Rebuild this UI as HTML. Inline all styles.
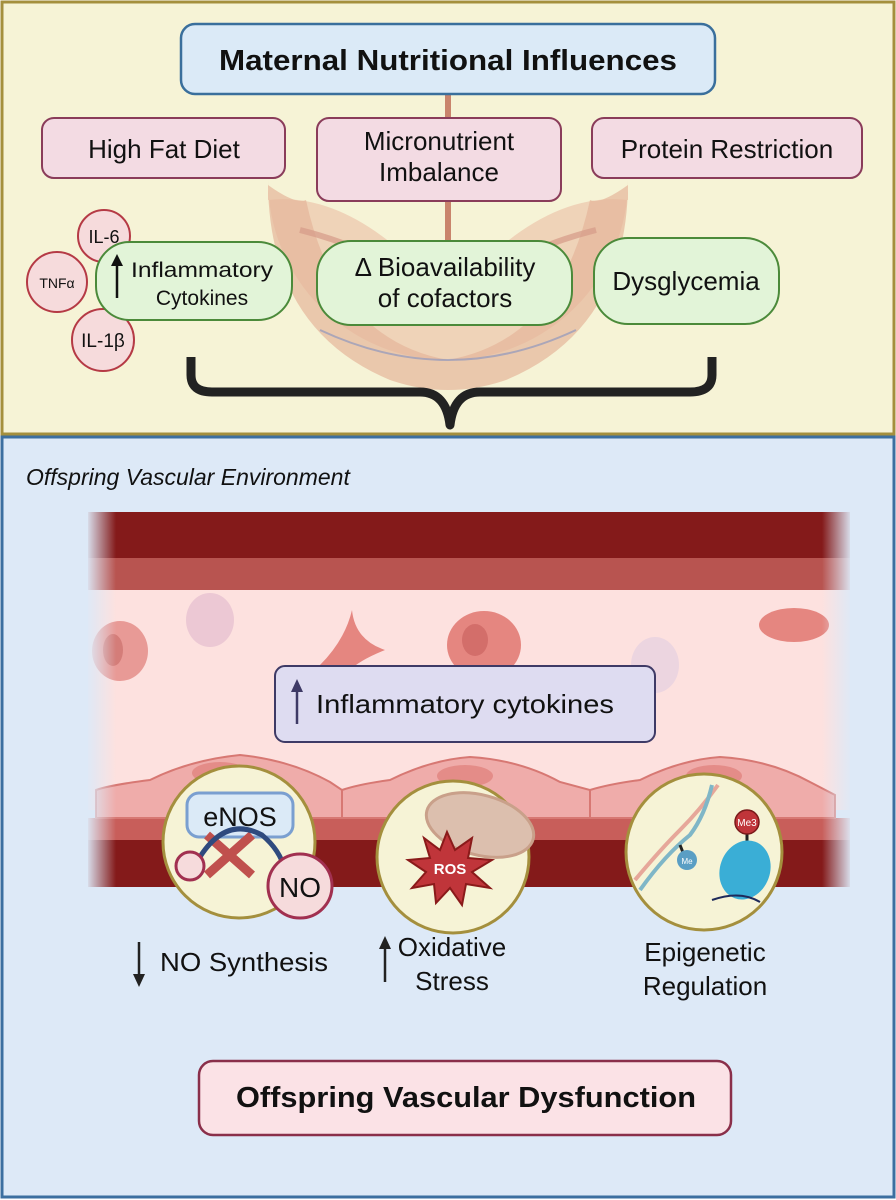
<!DOCTYPE html>
<html><head><meta charset="utf-8"><style>
html,body{margin:0;padding:0;background:#fff}
svg{display:block}
text{font-family:"Liberation Sans",sans-serif;fill:#111}
</style></head><body>
<svg width="896" height="1200" viewBox="0 0 896 1200" xmlns="http://www.w3.org/2000/svg">
<defs>
<linearGradient id="fl" x1="0" x2="1"><stop offset="0" stop-color="#dde9f7" stop-opacity="1"/><stop offset="1" stop-color="#dde9f7" stop-opacity="0"/></linearGradient>
<linearGradient id="fr" x1="1" x2="0"><stop offset="0" stop-color="#dde9f7" stop-opacity="1"/><stop offset="1" stop-color="#dde9f7" stop-opacity="0"/></linearGradient>
</defs>
<rect x="2" y="2" width="892" height="432" fill="#f6f3d6" stroke="#a48f3d" stroke-width="3"/>
<path d="M268 180 A180 180 0 0 0 628 180 L628 200 Q540 190 448 300 Q356 190 268 200Z" fill="#eecbb0" opacity="0.8"/>
<path d="M268 185 Q270 330 390 380 Q448 400 506 380 Q626 330 628 185 Q600 205 590 200 Q560 340 448 360 Q336 340 306 200 Q296 205 268 185Z" fill="#e6b59a" opacity="0.7"/>
<path d="M300 230 Q380 250 448 300 Q516 250 596 230" fill="none" stroke="#d59a88" stroke-width="6" opacity="0.7"/>
<path d="M448 90 L448 300" stroke="#c9846c" stroke-width="6"/>
<path d="M320 330 Q448 390 576 330" fill="none" stroke="#8090c0" stroke-width="2" opacity="0.6"/>
<rect x="181" y="24" width="534" height="70" rx="14" fill="#dbeaf7" stroke="#3a6f9c" stroke-width="2.5"/>
<text x="448" y="70" font-size="29" font-weight="bold" text-anchor="middle" textLength="458" lengthAdjust="spacingAndGlyphs">Maternal Nutritional Influences</text>
<rect x="42" y="118" width="243" height="60" rx="12" fill="#f3dbe3" stroke="#8a3c5a" stroke-width="2"/>
<text x="164" y="158" font-size="26" text-anchor="middle">High Fat Diet</text>
<rect x="317" y="118" width="244" height="83" rx="12" fill="#f3dbe3" stroke="#8a3c5a" stroke-width="2"/>
<text x="439" y="150" font-size="26" text-anchor="middle">Micronutrient</text>
<text x="439" y="181" font-size="26" text-anchor="middle">Imbalance</text>
<rect x="592" y="118" width="270" height="60" rx="12" fill="#f3dbe3" stroke="#8a3c5a" stroke-width="2"/>
<text x="727" y="158" font-size="26" text-anchor="middle">Protein Restriction</text>
<circle cx="104" cy="236" r="26" fill="#f6dbdc" stroke="#b53a45" stroke-width="2"/>
<text x="104" y="243" font-size="18" text-anchor="middle">IL-6</text>
<circle cx="57" cy="282" r="30" fill="#f6dbdc" stroke="#b53a45" stroke-width="2"/>
<text x="57" y="288" font-size="14" text-anchor="middle">TNFα</text>
<circle cx="103" cy="340" r="31" fill="#f6dbdc" stroke="#b53a45" stroke-width="2"/>
<text x="103" y="347" font-size="19" text-anchor="middle">IL-1β</text>
<rect x="96" y="242" width="196" height="78" rx="34" fill="#e2f4d8" stroke="#4b8a3a" stroke-width="2"/>
<line x1="117" y1="298" x2="117" y2="262" stroke="#111" stroke-width="2.5"/>
<path d="M111 266 L117 254 L123 266Z" fill="#111"/>
<text x="202" y="277" font-size="21" text-anchor="middle" textLength="142" lengthAdjust="spacingAndGlyphs">Inflammatory</text>
<text x="202" y="305" font-size="21" text-anchor="middle">Cytokines</text>
<rect x="317" y="241" width="255" height="84" rx="34" fill="#e2f4d8" stroke="#4b8a3a" stroke-width="2"/>
<text x="445" y="276" font-size="26" text-anchor="middle">Δ Bioavailability</text>
<text x="445" y="307" font-size="26" text-anchor="middle">of cofactors</text>
<rect x="594" y="238" width="185" height="86" rx="34" fill="#e2f4d8" stroke="#4b8a3a" stroke-width="2"/>
<text x="686" y="290" font-size="26" text-anchor="middle">Dysglycemia</text>
<path d="M191 357 L191 375 Q191 392 212 392 L420 392 Q446 392 450 425 Q454 392 480 392 L690 392 Q712 392 712 375 L712 357" fill="none" stroke="#222" stroke-width="9" stroke-linejoin="round"/>
<rect x="2" y="437" width="892" height="760" fill="#dde9f7" stroke="#3c6fa0" stroke-width="3"/>
<text x="26" y="485" font-size="23" font-style="italic">Offspring Vascular Environment</text>
<rect x="88" y="512" width="762" height="48" fill="#841a1a"/>
<rect x="88" y="558" width="762" height="34" fill="#b85450"/>
<rect x="88" y="590" width="762" height="220" fill="#fde1df"/>
<rect x="88" y="818" width="762" height="24" fill="#c85e5a"/>
<rect x="88" y="840" width="762" height="47" fill="#841a1a"/>
<ellipse cx="120" cy="651" rx="28" ry="30" fill="#e89a96"/><ellipse cx="113" cy="650" rx="10" ry="16" fill="#d47d79"/>
<ellipse cx="210" cy="620" rx="24" ry="27" fill="#ecc8d4"/>
<path d="M320 665 Q345 640 352 610 Q355 640 385 650 Q360 660 350 670Z" fill="#e58680"/>
<ellipse cx="484" cy="645" rx="37" ry="34" fill="#e58680"/><ellipse cx="475" cy="640" rx="13" ry="16" fill="#d36e6a"/>
<ellipse cx="655" cy="665" rx="24" ry="28" fill="#ecd5e0"/>
<ellipse cx="794" cy="625" rx="35" ry="17" fill="#e58680"/>
<path d="M96 818 L96 790 Q110 785 150 780 Q190 760 240 755 Q290 760 330 782 L342 790 L342 818Z" fill="#efacaa" stroke="#d77873" stroke-width="2"/>
<path d="M342 818 L342 790 Q360 784 390 780 Q430 760 470 757 Q520 760 560 782 L590 790 L590 818Z" fill="#efacaa" stroke="#d77873" stroke-width="2"/>
<path d="M590 818 L590 790 Q610 784 640 780 Q680 760 720 757 Q770 760 810 782 L835 795 L835 818Z" fill="#efacaa" stroke="#d77873" stroke-width="2"/>
<ellipse cx="220" cy="773" rx="28" ry="11" fill="#e48c88"/>
<ellipse cx="465" cy="776" rx="28" ry="11" fill="#e48c88"/>
<ellipse cx="714" cy="776" rx="28" ry="11" fill="#e48c88"/>
<rect x="86" y="505" width="30" height="390" fill="url(#fl)"/>
<rect x="822" y="505" width="30" height="390" fill="url(#fr)"/>
<rect x="275" y="666" width="380" height="76" rx="10" fill="#dedcf1" stroke="#3e3a66" stroke-width="2"/>
<line x1="297" y1="724" x2="297" y2="688" stroke="#3e3a66" stroke-width="2.5"/>
<path d="M291 692 L297 679 L303 692Z" fill="#3e3a66"/>
<text x="316" y="713" font-size="26" textLength="298" lengthAdjust="spacingAndGlyphs">Inflammatory cytokines</text>
<circle cx="239" cy="842" r="76" fill="#f6f3d6" stroke="#a48f3d" stroke-width="3"/>
<rect x="187" y="793" width="106" height="44" rx="12" fill="#dbeaf7" stroke="#7a9fd0" stroke-width="3"/>
<text x="240" y="826" font-size="27" text-anchor="middle">eNOS</text>
<path d="M207 835 L252 875 M252 835 L207 875" stroke="#c0504d" stroke-width="9"/>
<path d="M198 860 Q225 815 262 835 Q280 850 285 870" fill="none" stroke="#2f4a7e" stroke-width="5"/>
<path d="M275 868 L297 872 L283 888Z" fill="#2f4a7e"/>
<circle cx="190" cy="866" r="14" fill="#f6dbdc" stroke="#a13050" stroke-width="3"/>
<circle cx="300" cy="886" r="32" fill="#f6dbdc" stroke="#a13050" stroke-width="3"/>
<text x="300" y="897" font-size="28" text-anchor="middle">NO</text>
<circle cx="453" cy="857" r="76" fill="#f6f3d6" stroke="#a48f3d" stroke-width="3"/>
<ellipse cx="480" cy="825" rx="55" ry="30" fill="#dcbfae" transform="rotate(15 480 825)" stroke="#c9a08a" stroke-width="3"/>
<path d="M447 832 L455 850 L472 838 L468 858 L492 860 L472 872 L490 888 L466 884 L462 905 L450 888 L436 903 L434 884 L412 888 L426 872 L408 860 L430 858 L424 838 L440 850Z" fill="#c0353a" stroke="#8a1a1a" stroke-width="2"/>
<text x="450" y="874" font-size="15" font-weight="bold" text-anchor="middle" style="fill:#fff">ROS</text>
<circle cx="704" cy="852" r="78" fill="#f6f3d6" stroke="#a48f3d" stroke-width="3"/>
<path d="M635 880 Q660 850 680 830 Q700 810 718 785" fill="none" stroke="#e6a79a" stroke-width="4"/>
<path d="M640 890 Q665 855 690 835 Q705 815 712 785" fill="none" stroke="#7fb6c7" stroke-width="4"/>
<line x1="680" y1="845" x2="686" y2="860" stroke="#222" stroke-width="3"/>
<circle cx="687" cy="860" r="10" fill="#5a9ec4"/>
<text x="687" y="864" font-size="8" text-anchor="middle" style="fill:#fff">Me</text>
<line x1="747" y1="828" x2="747" y2="845" stroke="#222" stroke-width="3"/>
<circle cx="747" cy="822" r="12" fill="#c0353a" stroke="#7a1a1a" stroke-width="1.5"/>
<text x="747" y="826" font-size="10" text-anchor="middle" style="fill:#fff">Me3</text>
<ellipse cx="745" cy="870" rx="25" ry="30" fill="#3aaed6" transform="rotate(20 745 870)"/>
<path d="M712 900 Q740 890 760 902" fill="none" stroke="#1f2a5a" stroke-width="2"/>
<line x1="139" y1="942" x2="139" y2="978" stroke="#222" stroke-width="2.5"/>
<path d="M133 974 L139 987 L145 974Z" fill="#222"/>
<text x="160" y="971" font-size="26" textLength="168" lengthAdjust="spacingAndGlyphs">NO Synthesis</text>
<line x1="385" y1="982" x2="385" y2="945" stroke="#222" stroke-width="2.5"/>
<path d="M379 949 L385 936 L391 949Z" fill="#222"/>
<text x="452" y="956" font-size="26" text-anchor="middle">Oxidative</text>
<text x="452" y="990" font-size="26" text-anchor="middle">Stress</text>
<text x="705" y="961" font-size="26" text-anchor="middle">Epigenetic</text>
<text x="705" y="995" font-size="26" text-anchor="middle">Regulation</text>
<rect x="199" y="1061" width="532" height="74" rx="14" fill="#fbe2e6" stroke="#8a2f4a" stroke-width="2.5"/>
<text x="466" y="1107" font-size="29" font-weight="bold" text-anchor="middle" textLength="460" lengthAdjust="spacingAndGlyphs">Offspring Vascular Dysfunction</text>
</svg>
</body></html>
